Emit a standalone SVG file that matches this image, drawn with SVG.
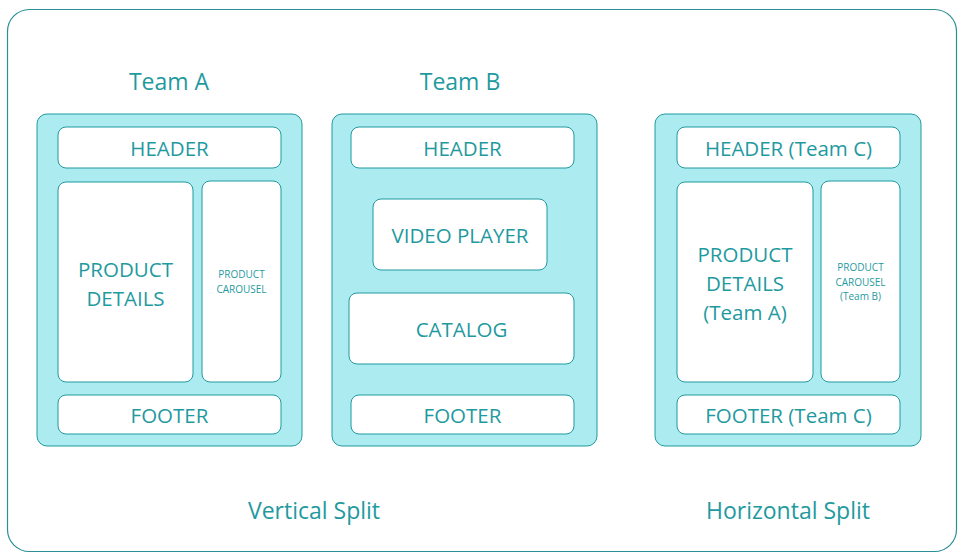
<svg xmlns="http://www.w3.org/2000/svg" width="968" height="560" viewBox="0 0 968 560">
<style>
.frame{fill:#fff;stroke:#2a8f96;stroke-width:1.2}
.panel{fill:#acebf0;stroke:#1f9aa0;stroke-width:1}
.box{fill:#fff;stroke:#1f9aa0;stroke-width:1}
text{font-family:"Open Sans","Noto Sans",sans-serif;fill:#1f9aa0;text-anchor:middle}
.t{font-size:20.5px}
.s{font-size:10px}
.h{font-size:23px}
</style>
<rect class="frame" x="7.5" y="9.5" width="949" height="542" rx="22"/>
<text class="h" x="169" y="90">Team A</text>
<text class="h" x="460" y="90">Team B</text>
<text class="h" x="314" y="519">Vertical Split</text>
<text class="h" x="788" y="519">Horizontal Split</text>
<g id="panelA">
<rect class="panel" x="37" y="114" width="265" height="332" rx="10"/>
<g id="a-header"><rect class="box" x="58" y="127" width="223" height="41" rx="8"/><text class="t" x="169.5" y="156">HEADER</text></g>
<g id="a-details"><rect class="box" x="58" y="182" width="135" height="200" rx="8"/><text class="t" x="125.5" y="277">PRODUCT</text><text class="t" x="125.5" y="306">DETAILS</text></g>
<g id="a-carousel"><rect class="box" x="202" y="181" width="79" height="201" rx="8"/><text class="s" x="241.5" y="278">PRODUCT</text><text class="s" x="241.5" y="293">CAROUSEL</text></g>
<g id="a-footer"><rect class="box" x="58" y="395" width="223" height="39" rx="8"/><text class="t" x="169.5" y="423">FOOTER</text></g>
</g>
<g id="panelB">
<rect class="panel" x="332" y="114" width="265" height="332" rx="10"/>
<g id="b-header"><rect class="box" x="351" y="127" width="223" height="41" rx="8"/><text class="t" x="462.5" y="156">HEADER</text></g>
<g id="b-video"><rect class="box" x="373" y="199" width="174" height="71" rx="8"/><text class="t" x="460" y="243">VIDEO PLAYER</text></g>
<g id="b-catalog"><rect class="box" x="349" y="293" width="225" height="71" rx="8"/><text class="t" x="461.5" y="337">CATALOG</text></g>
<g id="b-footer"><rect class="box" x="351" y="395" width="223" height="39" rx="8"/><text class="t" x="462.5" y="423">FOOTER</text></g>
</g>
<g id="panelC">
<rect class="panel" x="655" y="114" width="266" height="332" rx="10"/>
<g id="c-header"><rect class="box" x="677" y="127" width="223" height="41" rx="8"/><text class="t" x="788.5" y="156">HEADER (Team C)</text></g>
<g id="c-details"><rect class="box" x="677" y="182" width="136" height="200" rx="8"/><text class="t" x="745" y="262">PRODUCT</text><text class="t" x="745" y="291">DETAILS</text><text class="t" x="745" y="320">(Team A)</text></g>
<g id="c-carousel"><rect class="box" x="821" y="181" width="79" height="201" rx="8"/><text class="s" x="860.5" y="271">PRODUCT</text><text class="s" x="860.5" y="286">CAROUSEL</text><text class="s" x="860.5" y="300">(Team B)</text></g>
<g id="c-footer"><rect class="box" x="677" y="395" width="223" height="39" rx="8"/><text class="t" x="788.5" y="423">FOOTER (Team C)</text></g>
</g>
<g id="connectors"/>
</svg>
